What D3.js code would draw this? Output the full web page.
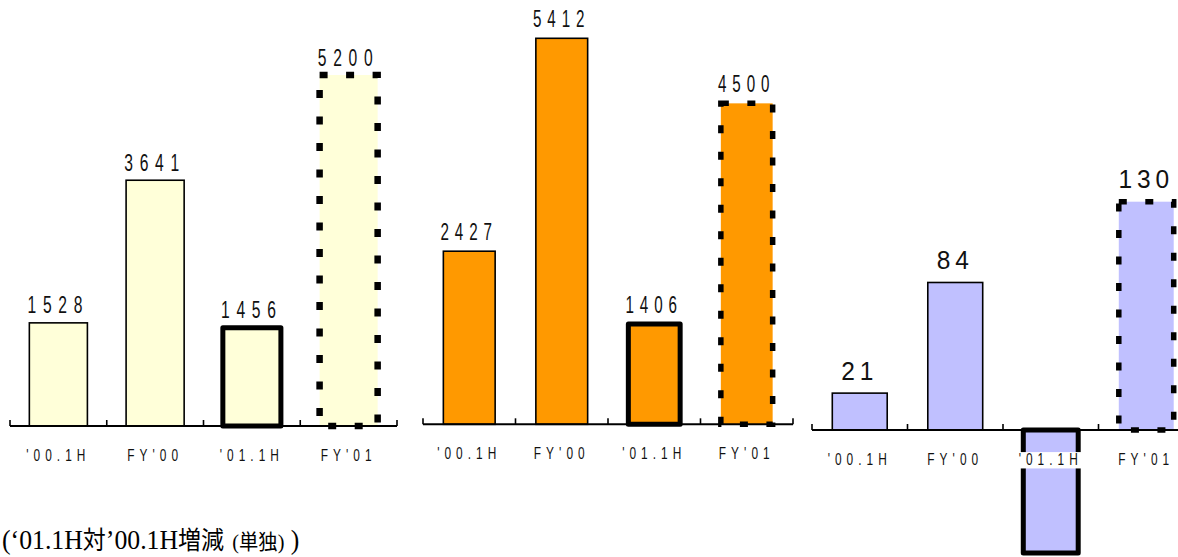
<!DOCTYPE html>
<html>
<head>
<meta charset="utf-8">
<script src="https://cdn.jsdelivr.net/npm/d3@7"></script>
<style>
  html, body { margin: 0; padding: 0; background: #fff; }
  svg { display: block; }
</style>
</head>
<body>
<svg id="chart" width="1178" height="557"></svg>
<script>
// Periods shown on every panel
const categories = ["'00.1H", "FY'00", "'01.1H", "FY'01"];

// Panel values (left, middle, right)
const valuesLeft = [1528, 3641, 1456, 5200];
const valuesMiddle = [2427, 5412, 1406, 4500];
const valuesRight = [21, 84, -70, 130];

// Footnote pieces
const noteLatinA = "(\u201801.1H";
const noteKanjiA = "対";
const noteLatinB = "\u201900.1H";
const noteKanjiB = "増減";
const noteSmall = "単独";
const noteClose = ")";

const svg = d3.select("#chart");

// Layout and style of each panel
const panels = [
  { values: valuesLeft,   fill: "#FFFFD9", x0: 10,  x1: 397,  base: 426,   top: 75,    barFrac: 0.60, dashW: 6.5,
    label: { size: 23, sx: 0.68, spacing: 10,  gap: 9.5 } },
  { values: valuesMiddle, fill: "#FF9900", x0: 423, x1: 793,  base: 424.3, top: 38.3,  barFrac: 0.56, dashW: 5.5,
    label: { size: 23, sx: 0.66, spacing: 9,   gap: 11 } },
  { values: valuesRight,  fill: "#C0C0FF", x0: 812, x1: 1194, base: 430,   top: 201.7, barFrac: 0.575, dashW: 5.5,
    label: { size: 25, sx: 0.98, spacing: 5,   gap: 13.5 } }
];

// Horizontally condensed text drawn centred on (x, y)
function condensedText(parent, x, y, str, opt) {
  const g = parent.append("g")
    .attr("transform", `translate(${x},${y}) scale(${opt.sx},1)`);
  const t = g.append("text")
    .attr("x", 0).attr("y", 0)
    .attr("text-anchor", "middle")
    .attr("font-family", "'Liberation Sans', Arial, sans-serif")
    .attr("font-size", opt.size)
    .attr("letter-spacing", opt.spacing)
    .attr("fill", "#111")
    .text(str);
  if (opt.backdrop) {
    const bb = t.node().getBBox();
    const padX = 2 / opt.sx;
    g.insert("rect", "text")
      .attr("x", bb.x - padX).attr("y", bb.y + 2)
      .attr("width", bb.width + 2 * padX).attr("height", bb.height - 2)
      .attr("fill", "#fff");
  }
  return g;
}

panels.forEach(p => {
  const g = svg.append("g");

  const x = d3.scaleBand().domain(categories).range([p.x0, p.x1]).padding(0);
  const y = d3.scaleLinear().domain([0, d3.max(p.values)]).range([p.base, p.top]);

  const bw = x.bandwidth() * p.barFrac;
  const data = categories.map((c, i) => ({ cat: c, v: p.values[i], i }));

  // Bars: two actuals, the current half-year (heavy outline), the full-year plan (dashed)
  g.selectAll("rect.bar")
    .data(data)
    .join("rect")
    .attr("class", "bar")
    .attr("x", d => x(d.cat) + (x.bandwidth() - bw) / 2)
    .attr("width", bw)
    .attr("y", d => Math.min(y(d.v), y(0)))
    .attr("height", d => Math.abs(y(d.v) - y(0)))
    .attr("fill", p.fill)
    .attr("stroke", "#000")
    .attr("stroke-width", d => d.i === 2 ? 5 : d.i === 3 ? p.dashW : 1.6)
    .attr("stroke-linejoin", d => d.i === 2 ? "round" : "miter")
    .attr("stroke-dasharray", d => d.i === 3 ? "8 18.5" : null);

  // Baseline with upward ticks at the band edges
  g.append("line")
    .attr("x1", p.x0).attr("x2", p.x1)
    .attr("y1", y(0)).attr("y2", y(0))
    .attr("stroke", "#000").attr("stroke-width", 2);
  const edges = categories.map(c => x(c)).concat([x.range()[1]]);
  g.selectAll("line.tick")
    .data(edges)
    .join("line")
    .attr("class", "tick")
    .attr("x1", d => d).attr("x2", d => d)
    .attr("y1", y(0) - 6).attr("y2", y(0))
    .attr("stroke", "#000").attr("stroke-width", 1.6);

  // Value figures above positive bars
  data.filter(d => d.v >= 0).forEach(d => {
    condensedText(g, x(d.cat) + x.bandwidth() / 2, y(d.v) - p.label.gap, String(d.v), p.label);
  });

  // Period labels under the baseline
  data.forEach(d => {
    condensedText(g, x(d.cat) + x.bandwidth() / 2, y(0) + 35, d.cat,
      { size: 16.5, sx: 0.72, spacing: 7, backdrop: true });
  });
});

// Footnote
const cjk = "'Noto Sans CJK JP', sans-serif";
const note = svg.append("text")
  .attr("transform", "translate(2,549) scale(0.92,1)")
  .attr("font-family", "'Liberation Serif', 'Times New Roman', serif")
  .attr("font-size", 28)
  .attr("fill", "#000");
note.append("tspan").text(noteLatinA);
note.append("tspan").attr("font-family", cjk).attr("font-size", 25).text(noteKanjiA);
note.append("tspan").text(noteLatinB);
note.append("tspan").attr("font-family", cjk).attr("font-size", 25).text(noteKanjiB);
note.append("tspan").attr("dx", 9).attr("font-size", 22).text("(");
note.append("tspan").attr("font-family", cjk).attr("font-size", 21).text(noteSmall);
note.append("tspan").attr("font-size", 22).text(")");
note.append("tspan").attr("dx", 7).text(noteClose);
</script>
</body>
</html>
